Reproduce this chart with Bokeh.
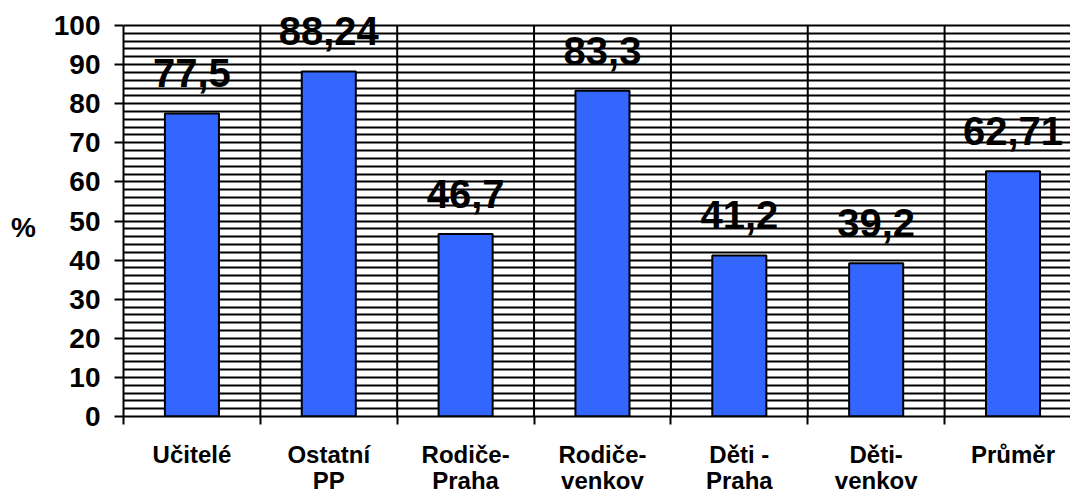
from bokeh.plotting import figure
from bokeh.models import FixedTicker, LabelSet, ColumnDataSource, Range1d, LinearAxis
from bokeh.core.properties import value
from bokeh.embed import file_html
from bokeh.resources import INLINE

line1 = ["Učitelé", "Ostatní", "Rodiče-", "Rodiče-", "Děti -", "Děti-", "Průměr"]
line2 = ["", "PP", "Praha", "venkov", "Praha", "venkov", ""]
values = [77.5, 88.24, 46.7, 83.3, 41.2, 39.2, 62.71]
value_labels = ["77,5", "88,24", "46,7", "83,3", "41,2", "39,2", "62,71"]
y_ticks = list(range(0, 101, 10))
y_grid_step = 2

FONT = "Liberation Sans"
n = len(values)
xs = [i + 0.5 for i in range(n)]
bounds = list(range(0, n + 1))
ymax = y_ticks[-1]

src = ColumnDataSource(dict(x=xs, v=values, lab=value_labels))
bsrc = ColumnDataSource(dict(b=bounds[1:], y0=[0] * (n), y1=[ymax] * (n)))

# frame: 416 px tall, 100 units -> 391 px, so range top leaves room for labels
y_end = ymax * 416 / 391
p = figure(width=1070, height=497, x_range=Range1d(0, 6.92), y_range=Range1d(0, y_end),
           output_backend="svg", toolbar_location=None,
           min_border_left=123, min_border_right=0, min_border_top=0, min_border_bottom=81)
p.outline_line_color = None
p.background_fill_color = "white"

# grids
p.ygrid.ticker = FixedTicker(ticks=list(range(y_grid_step, ymax + 1, y_grid_step)))
p.ygrid.grid_line_color = "black"
p.ygrid.grid_line_width = 2
p.xgrid.grid_line_color = None
p.segment(x0="b", x1="b", y0="y0", y1="y1", source=bsrc, line_color="black", line_width=2)

p.vbar(x="x", top="v", width=0.395, source=src, fill_color="#3366FF",
       line_color="black", line_width=2)

# y axis
ya = p.yaxis[0]
ya.ticker = FixedTicker(ticks=y_ticks)
ya.bounds = (0, ymax)
ya.major_tick_out = 9
ya.major_tick_in = 0
ya.minor_tick_out = 0
ya.minor_tick_in = 0
ya.axis_line_width = 2
ya.major_tick_line_width = 2
ya.major_label_text_font = FONT
ya.major_label_text_font_style = "bold"
ya.major_label_text_font_size = "28px"
ya.major_label_text_color = "black"
ya.major_label_standoff = 14
ya.axis_label = "\n%"
ya.axis_label_orientation = "horizontal"
ya.axis_label_text_font = FONT
ya.axis_label_text_font_style = "bold"
ya.axis_label_text_font_size = "28px"
ya.axis_label_text_color = "black"
ya.axis_label_standoff = 15

# x axis (first line of labels)
xa = p.xaxis[0]
xa.ticker = FixedTicker(ticks=xs, minor_ticks=bounds)
xa.major_tick_out = 0
xa.major_tick_in = 0
xa.minor_tick_out = 8
xa.minor_tick_in = 0
xa.minor_tick_line_color = "black"
xa.minor_tick_line_width = 2
xa.axis_line_width = 2
xa.major_label_overrides = {x: t for x, t in zip(xs, line1)}
xa.major_label_text_font = FONT
xa.major_label_text_font_style = "bold"
xa.major_label_text_font_size = "24px"
xa.major_label_text_color = "black"
xa.major_label_standoff = 16

# second line of category labels
xa2 = LinearAxis(ticker=FixedTicker(ticks=xs))
xa2.axis_line_color = None
xa2.major_tick_out = 0
xa2.major_tick_in = 0
xa2.minor_tick_out = 0
xa2.minor_tick_in = 0
xa2.major_label_overrides = {x: t for x, t in zip(xs, line2)}
xa2.major_label_text_font = FONT
xa2.major_label_text_font_style = "bold"
xa2.major_label_text_font_size = "24px"
xa2.major_label_text_color = "black"
xa2.major_label_standoff = -4
p.add_layout(xa2, "below")

# value labels
p.add_layout(LabelSet(x="x", y="v", y_offset=26, text="lab", source=src,
                      text_font=value(FONT), text_font_style="bold",
                      text_font_size="40px", text_align="center",
                      text_baseline="alphabetic", text_color="black"))

open("out.html", "w").write(file_html(p, INLINE))
